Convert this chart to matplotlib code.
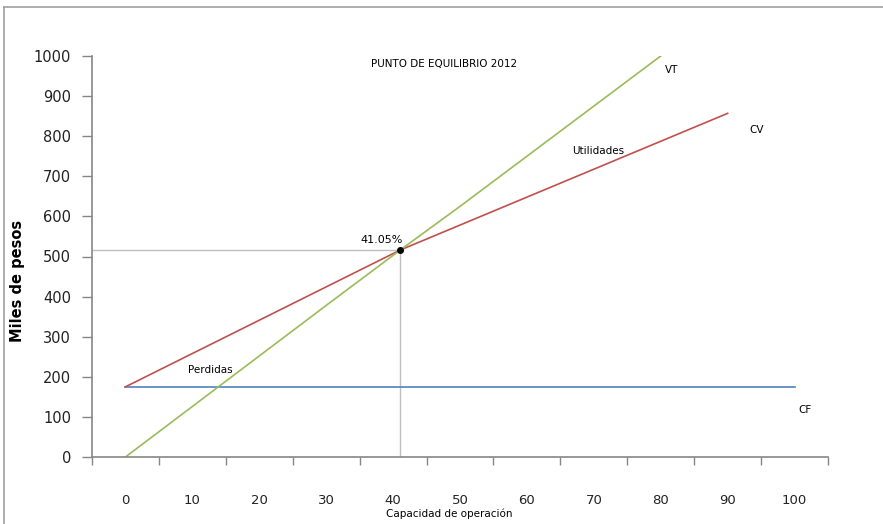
import matplotlib
matplotlib.use("Agg")
import matplotlib.pyplot as plt
from matplotlib.lines import Line2D

# Break-even data (capacity %, thousands of pesos)
capacidad_cf = [0, 100]
costo_fijo = [175, 175]

capacidad_cv = [0, 41.05, 90]
costo_variable = [175, 516, 857]

capacidad_vt = [0, 30, 41.05, 50, 80]
ventas_totales = [0, 378, 516, 625, 1000]

punto_x = 41.05
punto_y = 516
punto_label = "41.05%"

x_ticks = [0, 10, 20, 30, 40, 50, 60, 70, 80, 90, 100]
y_ticks = [0, 100, 200, 300, 400, 500, 600, 700, 800, 900, 1000]

fig = plt.figure(figsize=(8.83, 5.24), dpi=100)
ax = fig.add_axes([92 / 883, 67 / 524, 736 / 883, 401 / 524])

axis_gray = "#868686"
ax.plot(capacidad_cf, costo_fijo, color="#4F81BD", lw=1.2)
ax.plot(capacidad_cv, costo_variable, color="#C0504D", lw=1.2)
ax.plot(capacidad_vt, ventas_totales, color="#9BBB59", lw=1.2)

# guide lines to the break-even point
ax.plot([-5, punto_x], [punto_y, punto_y], color="#BFBFBF", lw=1.0, zorder=1)
ax.plot([punto_x, punto_x], [0, punto_y], color="#BFBFBF", lw=1.0, zorder=1)
ax.plot([punto_x], [punto_y], "o", color="black", ms=4, zorder=5)

ax.set_xlim(-5, 105)
ax.set_ylim(0, 1000)

ax.set_xticks(x_ticks)
ax.set_xticklabels([str(v) for v in x_ticks], fontsize=9.5, color="#222222")
ax.tick_params(axis="x", which="major", length=0, pad=27)
ax.set_xticks([v - 5 for v in x_ticks] + [105], minor=True)
ax.tick_params(axis="x", which="minor", length=6, width=1, color=axis_gray, direction="out")

ax.set_yticks(y_ticks)
ax.set_yticklabels([str(v) for v in y_ticks], fontsize=10.5, color="#222222")
ax.tick_params(axis="y", length=7, width=1, color=axis_gray, direction="out", pad=8)

for s in ["top", "right"]:
    ax.spines[s].set_visible(False)
for s in ["left", "bottom"]:
    ax.spines[s].set_color(axis_gray)
    ax.spines[s].set_linewidth(1.2)

ax.set_xlabel("Capacidad de operación", fontsize=7.5)
ax.xaxis.set_label_coords(0.486, -0.128)
ax.set_ylabel("Miles de pesos", fontsize=10.5, fontweight="bold")
ax.yaxis.set_label_coords(-0.091, 0.44)

txt = dict(fontsize=7.5, color="black", ha="center", va="center")
ax.text(47.6, 980, "PUNTO DE EQUILIBRIO 2012", **txt)
ax.text(81.6, 965, "VT", **txt)
ax.text(94.3, 815, "CV", **txt)
ax.text(70.7, 763, "Utilidades", **txt)
ax.text(12.7, 217, "Perdidas", **txt)
ax.text(101.6, 117, "CF", **txt)
ax.text(38.3, 540, punto_label, fontsize=8, ha="center", va="center")

# outer frame of the chart area
fig.add_artist(Line2D([4 / 883, 1], [1 - 7 / 524, 1 - 7 / 524], color="#A0A0A0", lw=1.2, transform=fig.transFigure))
fig.add_artist(Line2D([4 / 883, 4 / 883], [0, 1 - 7 / 524], color="#A0A0A0", lw=1.2, transform=fig.transFigure))

fig.savefig("out.png", dpi=100)
